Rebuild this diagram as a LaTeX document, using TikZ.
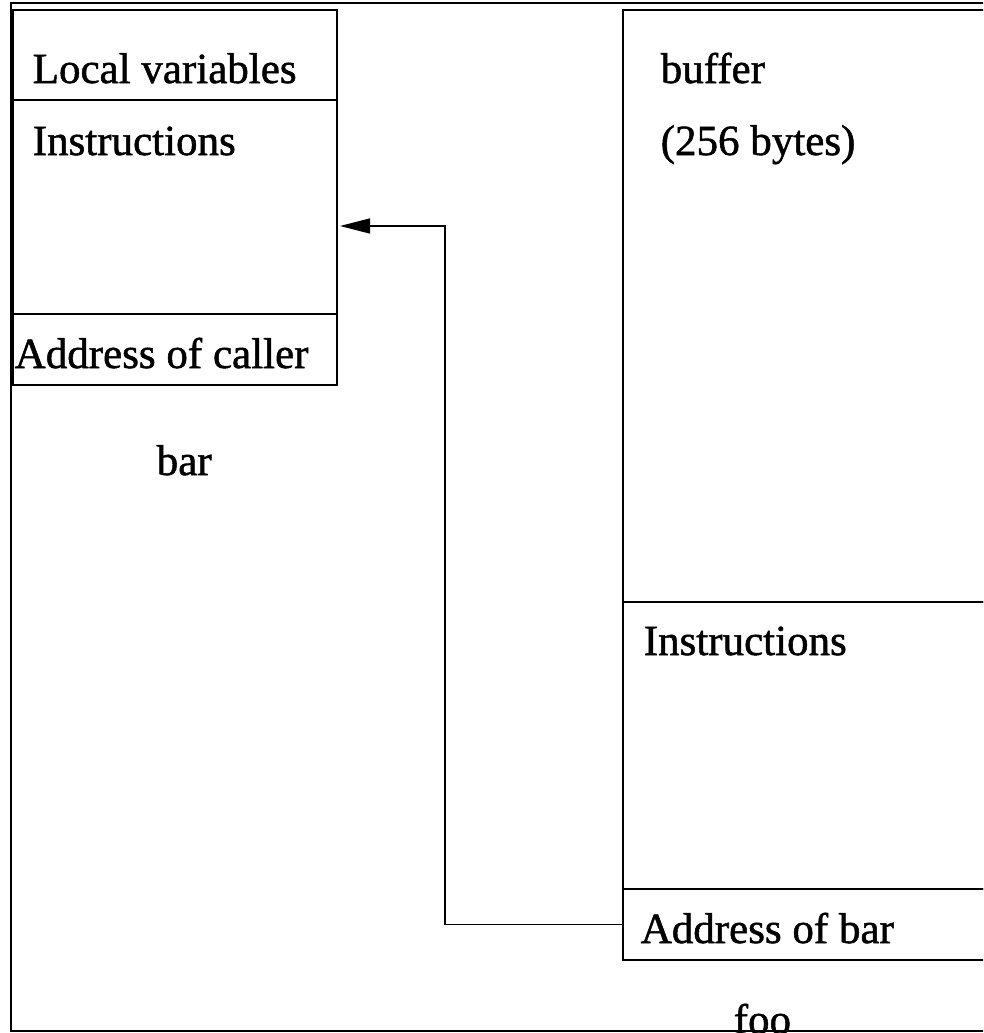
\documentclass[tikz,border=0pt]{standalone}
\usepackage{fontspec}
\setmainfont{Liberation Serif}
\newfontfamily\heavyserif[FakeBold=1.2]{Liberation Serif}
\usetikzlibrary{arrows.meta}
\begin{document}
\begin{tikzpicture}[x=1pt,y=-1pt, line width=1.5pt,
  cell/.style={draw, rectangle, inner sep=0pt, outer sep=0pt, anchor=north west},
  lbl/.style={anchor=base west, inner sep=0pt, font=\heavyserif\fontsize{43}{50}\selectfont}]
\clip (0,0) rectangle (983,1033);
\fill[white] (0,0) rectangle (983,1033);
% outer frame
\node[cell, minimum width=1100pt, minimum height=1028pt] (frame) at (11,3) {};
% bar
\node[cell, minimum width=324pt, minimum height=90pt] (local) at (13,10) {};
\node[cell, minimum width=324pt, minimum height=214pt] (binstr) at (13,100) {};
\node[cell, minimum width=324pt, minimum height=71pt] (caller) at (13,314) {};
% foo
\node[cell, minimum width=400pt, minimum height=592pt] (buffer) at (623,10) {};
\node[cell, minimum width=400pt, minimum height=287pt] (finstr) at (623,602) {};
\node[cell, minimum width=400pt, minimum height=71pt] (addr) at (623,889) {};
% labels
\node[lbl] (t1) at (32,83) {Local variables};
\node[lbl] (t2) at (32,155) {Instructions};
\node[lbl] (t3) at (14,368) {Address of caller};
\node[lbl] (t4) at (156,475) {bar};
\node[lbl] (t5) at (660,83) {buffer};
\node[lbl] (t6) at (660,155) {(256 bytes)};
\node[lbl] (t7) at (643,655) {Instructions};
\node[lbl] (t8) at (640,943) {Address of bar};
\node[lbl] (t9) at (733,1034) {foo};
% connector
\draw[-{Triangle[length=30pt,width=15pt]}] (addr.west) -- ++(-178,0) |- ([xshift=3pt,yshift=-19pt]binstr.east);
\end{tikzpicture}
\end{document}
